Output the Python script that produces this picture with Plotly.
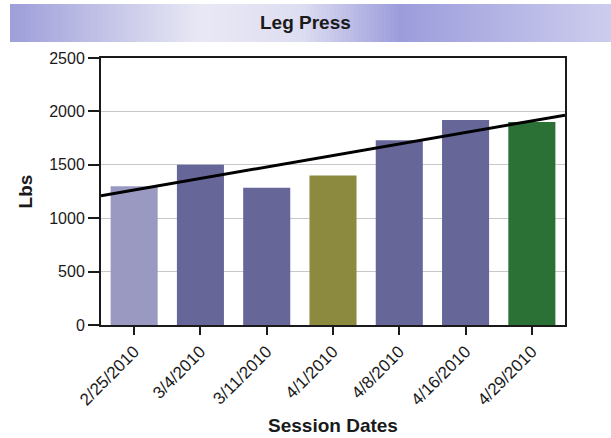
import plotly.graph_objects as go

categories = ["2/25/2010", "3/4/2010", "3/11/2010", "4/1/2010", "4/8/2010", "4/16/2010", "4/29/2010"]
values = [1300, 1500, 1285, 1400, 1730, 1920, 1900]
bar_colors = ["#9999c2", "#666699", "#666699", "#8c8a3e", "#666699", "#666699", "#2b7034"]
trend_values = [1210, 1965]  # trend line at left and right edges of plot
y_ticks = [0, 500, 1000, 1500, 2000, 2500]

W, H = 611, 438
L, R, T, B = 101, 565, 58, 325

fig = go.Figure()
fig.add_trace(go.Bar(x=list(range(len(categories))), y=values, marker=dict(color=bar_colors, line=dict(width=0)),
                     hoverinfo="skip", showlegend=False))
fig.add_trace(go.Scatter(x=[-0.5, len(categories) - 0.5], y=trend_values, mode="lines",
                         line=dict(color="black", width=3), showlegend=False, hoverinfo="skip"))

def px2x(px):
    return (px - L) / (R - L)

def py2y(py):
    return (B - py) / (B - T)

# banner gradient
stops = [(10, (158, 158, 218)), (200, (232, 232, 245)), (300, (222, 222, 242)), (400, (156, 156, 220)), (611, (205, 205, 238))]
shapes = []
x0 = 10
step = 4
while x0 < 611:
    x1 = min(x0 + step, 611)
    xm = (x0 + x1) / 2
    for i in range(len(stops) - 1):
        a, ca = stops[i]
        b, cb = stops[i + 1]
        if a <= xm <= b:
            t = (xm - a) / (b - a)
            c = tuple(int(round(ca[k] + (cb[k] - ca[k]) * t)) for k in range(3))
            break
    shapes.append(dict(type="rect", xref="paper", yref="paper", x0=px2x(x0), x1=px2x(x1 + 0.5),
                       y0=py2y(42), y1=py2y(4), fillcolor="rgb(%d,%d,%d)" % c, line=dict(width=0), layer="below"))
    x0 = x1

fig.update_layout(
    width=W, height=H,
    margin=dict(l=L, r=W - R, t=T, b=H - B, autoexpand=False),
    paper_bgcolor="white", plot_bgcolor="white",
    bargap=0.29,
    shapes=shapes,
    font=dict(family="Arial, Liberation Sans", color="#1a1a1a", size=16),
    annotations=[dict(text="<b>Leg Press</b>", xref="paper", yref="paper", x=px2x(305), y=py2y(23),
                      xanchor="center", yanchor="middle",
                      showarrow=False, font=dict(size=19, color="#1a1a1a"))],
    xaxis=dict(range=[-0.5, len(categories) - 0.5], tickmode="array", tickvals=list(range(len(categories))),
               ticktext=categories, tickangle=-45, ticks="outside", ticklen=8, tickcolor="#1a1a1a", tickwidth=2,
               tickfont=dict(size=17), automargin=False,
               showline=True, linecolor="#1a1a1a", linewidth=2, mirror=True, showgrid=False,
               title=dict(text="<b>Session Dates</b>", font=dict(size=19), standoff=10)),
    yaxis=dict(range=[0, 2500], tickvals=y_ticks, ticks="outside", ticklen=11, tickcolor="#1a1a1a", tickwidth=2,
               tickfont=dict(size=16), automargin=False,
               showline=True, linecolor="#1a1a1a", linewidth=2, mirror=True,
               showgrid=True, gridcolor="#c8c8c8", gridwidth=1, zeroline=False,
               title=dict(text="<b>Lbs</b>", font=dict(size=19), standoff=12)),
)

fig.write_html("out.html", config={"displayModeBar": False},
               post_script="document.body.style.margin='0px';")
